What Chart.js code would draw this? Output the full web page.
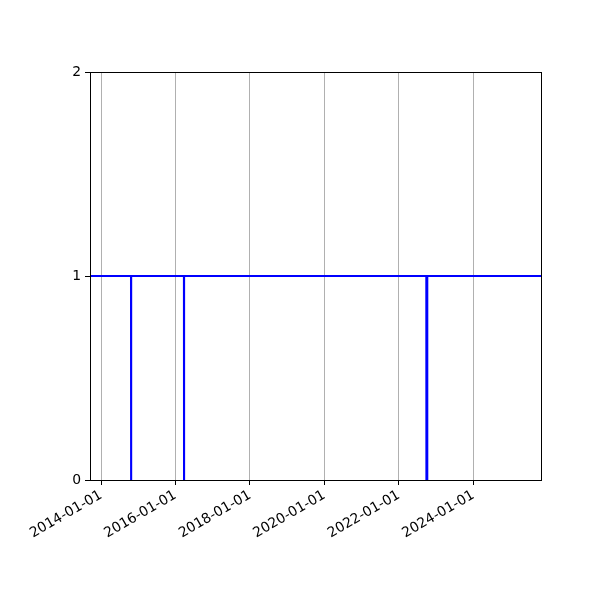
<!DOCTYPE html>
<html>
<head>
<meta charset="utf-8">
<script src="https://cdn.jsdelivr.net/npm/chart.js@4"></script>
<style>
  html, body { margin: 0; padding: 0; background: #fff; }
  #wrap { width: 600px; height: 600px; }
</style>
</head>
<body>
<div id="wrap"><canvas id="stepChart" width="600" height="600"></canvas></div>
<script>
// Values
const dates = ['2013-09-15', '2014-10-22', '2014-10-23', '2014-10-24',
               '2016-03-24', '2016-03-25', '2016-03-26',
               '2022-09-26', '2022-09-27', '2022-10-05', '2022-10-06', '2025-10-25'];
const values = [1, 1, 0, 1, 1, 0, 1, 1, 0, 0, 1, 1];
const xTickDates = ['2014-01-01', '2016-01-01', '2018-01-01', '2020-01-01', '2022-01-01', '2024-01-01'];
const yTicks = [0, 1, 2];
const xRange = ['2013-09-15', '2025-10-25'];

const toMs = d => Date.parse(d + 'T00:00:00Z');
const fmt = ms => new Date(ms).toISOString().slice(0, 10);

// draw the full box around the plot like matplotlib spines
const frame = {
    id: 'frame',
    afterDraw(chart) {
        const a = chart.chartArea;
        const ctx = chart.ctx;
        const l = Math.round(a.left) + 0.5, t = Math.round(a.top) + 0.5;
        const r = Math.round(a.right) + 0.5, b = Math.round(a.bottom) + 0.5;
        ctx.save();
        ctx.strokeStyle = '#000';
        ctx.lineWidth = 1;
        ctx.strokeRect(l, t, r - l, b - t);
        ctx.restore();
    }
};

const ctx = document.getElementById('stepChart').getContext('2d');
new Chart(ctx, {
    type: 'line',
    data: {
        datasets: [{
            data: dates.map((d, i) => ({ x: toMs(d), y: values[i] })),
            borderColor: '#0000ff',
            borderWidth: 2,
            pointRadius: 0,
            tension: 0,
            fill: false
        }]
    },
    options: {
        responsive: false,
        animation: false,
        devicePixelRatio: 1,
        layout: { padding: { top: 72, right: 59, left: 0, bottom: 0 } },
        plugins: { legend: { display: false }, tooltip: { enabled: false } },
        scales: {
            x: {
                type: 'linear',
                min: toMs(xRange[0]),
                max: toMs(xRange[1]),
                afterBuildTicks: s => { s.ticks = xTickDates.map(d => ({ value: toMs(d) })); },
                afterFit: s => { s.height = 120; },
                ticks: {
                    callback: v => fmt(v),
                    minRotation: 30,
                    maxRotation: 30,
                    color: '#000',
                    font: { family: 'DejaVu Sans', size: 13.9 },
                    padding: 2
                },
                grid: { color: '#b0b0b0', lineWidth: 1, drawTicks: true, tickColor: '#000', tickLength: 5 },
                border: { display: false }
            },
            y: {
                min: 0,
                max: 2,
                afterBuildTicks: s => { s.ticks = yTicks.map(v => ({ value: v })); },
                afterFit: s => { s.width = 90; },
                ticks: {
                    color: '#000',
                    font: { family: 'DejaVu Sans', size: 13.9 },
                    padding: 4
                },
                grid: { drawOnChartArea: false, drawTicks: true, tickColor: '#000', tickLength: 5 },
                border: { display: false }
            }
        }
    },
    plugins: [frame]
});
</script>
</body>
</html>
